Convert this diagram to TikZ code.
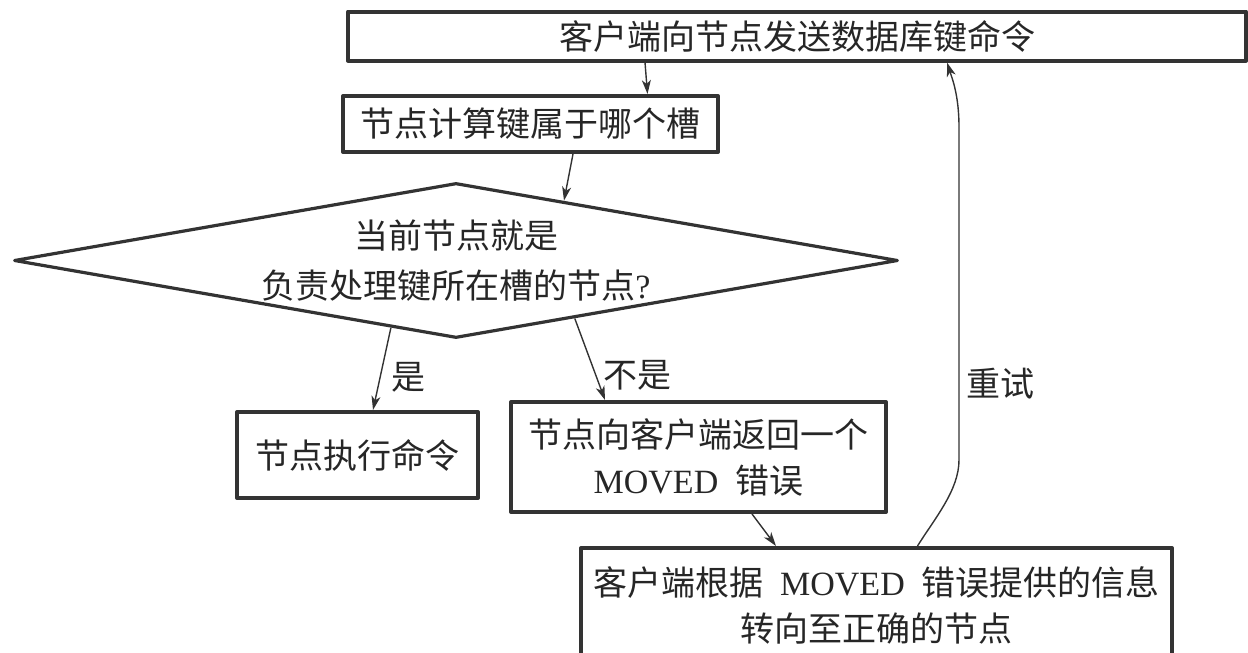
\documentclass[tikz,border=0pt]{standalone}
\usepackage{fontspec}
\setmainfont{Liberation Serif}
\newfontfamily\cjk{Noto Sans CJK SC}
\usetikzlibrary{shapes.geometric,arrows.meta,calc}
\begin{document}
\begin{tikzpicture}[x=.5pt, y=-.5pt, line join=round, >={Stealth[length=7pt,width=4.5pt,inset=2pt]},
  font=\cjk\fontsize{17}{23}\selectfont, text=black!85,
  box/.style={draw=black!80, line width=2pt, inner sep=0pt, align=center},
  link/.style={->, draw=black!80, line width=.7pt}]
\useasboundingbox (0,0) rectangle (1248,653);
\node[box, minimum width=449pt, minimum height=24.5pt] (send) at (797,36) {客户端向节点发送数据库键命令};
\node[box, minimum width=187.5pt, minimum height=28pt] (slot) at (530.5,124) {节点计算键属于哪个槽};
\node[diamond, draw=black!80, line width=1.6pt, aspect=5.7, minimum width=442pt, minimum height=77.5pt, inner sep=0pt, align=center] (check) at (456,260.5) {当前节点就是\\[2pt]负责处理键所在槽的节点{\rmfamily ?}};
\node[box, minimum width=120.5pt, minimum height=43pt] (exec) at (357.5,455) {节点执行命令};
\node[box, minimum width=187.5pt, minimum height=55pt] (reply) at (698.5,457) {节点向客户端返回一个\\{\rmfamily MOVED}\hspace{.5em}错误};
\node[box, minimum width=295.5pt, minimum height=57pt] (redirect) at (876.5,605) {客户端根据\hspace{.5em}{\rmfamily MOVED}\hspace{.5em}错误提供的信息\\转向至正确的节点};
\draw[link] ($(send.south)+(-152,0)$) -- ($(slot.north)+(117,0)$);
\draw[link] ($(slot.south)+(42.5,0)$) -- (check.29);
\draw[link] (check.-134) -- node[pos=.6, right, xshift=2pt] (yes) {是} ($(exec.north)+(15.5,0)$);
\draw[link] (check.-26) -- node[pos=.7, right] (no) {不是} ($(reply.north)+(-93.5,0)$);
\draw[link] ($(reply.south)+(53.5,0)$) -- ($(redirect.north)+(-100.5,0)$);
\draw[link] ($(redirect.north)+(41,0)$) .. controls (935,518) and (959,490) .. (959,460)
  -- node[pos=.23, right] (retry) {重试} (959,127)
  .. controls (959,95) and (952,78) .. ($(send.south)+(150,0)$);
\end{tikzpicture}
\end{document}
